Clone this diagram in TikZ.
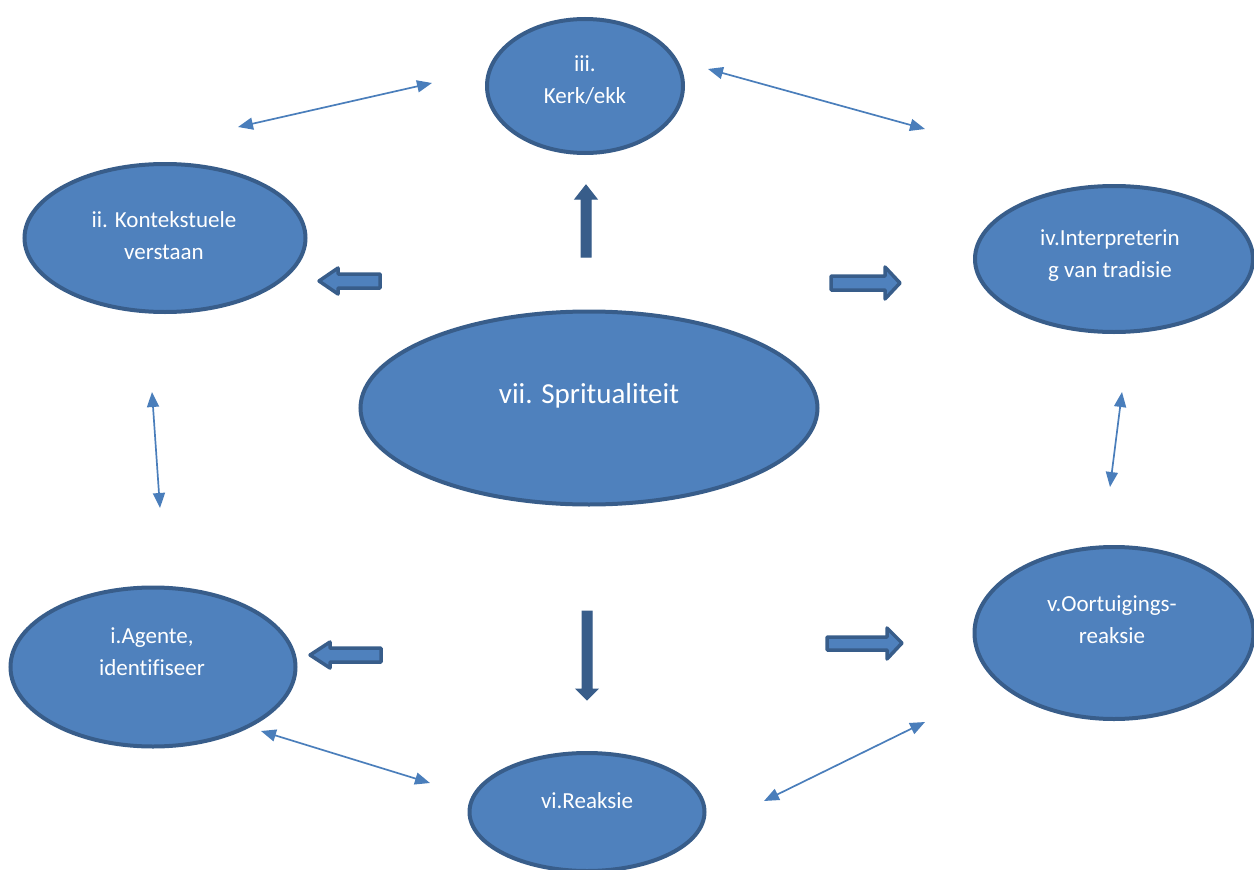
\documentclass[tikz,border=0pt]{standalone}
\usepackage{fontspec}
\setmainfont{Carlito}[Ligatures=NoCommon]
\usetikzlibrary{shapes.geometric,arrows.meta}
\definecolor{fillblue}{HTML}{4F81BD}
\definecolor{edgeblue}{HTML}{385D8A}
\definecolor{lineblue}{HTML}{4A7EBB}
\tikzset{
  oval/.style={ellipse, fill=fillblue, draw=edgeblue, line width=4pt, inner sep=0pt},
  lbl/.style={text=white, align=center, font=\fontsize{23}{32}\selectfont, inner sep=0pt},
  biglbl/.style={text=white, align=center, font=\fontsize{29}{34}\selectfont, inner sep=0pt},
  thin/.style={lineblue, line width=1.7pt, {Triangle[length=15pt,width=12pt]}-{Triangle[length=15pt,width=12pt]}},
  blockarrow/.style={fill=fillblue, draw=edgeblue, line width=3.5pt, line join=round},
  solidarrow/.style={fill=edgeblue, draw=edgeblue, line width=1pt, line join=miter},
}
\begin{document}
\begin{tikzpicture}[x=1pt,y=-1pt]
\useasboundingbox (0,0) rectangle (1254,870);

% ellipses
\node[oval, minimum width=196pt, minimum height=134pt] (kerk) at (585,86) {};
\node[oval, minimum width=281pt, minimum height=148pt] (kont) at (165,238) {};
\node[oval, minimum width=278pt, minimum height=146pt] (interp) at (1114,259) {};
\node[oval, minimum width=457pt, minimum height=193pt] (spirit) at (589,408) {};
\node[oval, minimum width=285pt, minimum height=159pt] (agent) at (153,667) {};
\node[oval, minimum width=279pt, minimum height=172pt] (oort) at (1114,633) {};
\node[oval, minimum width=235pt, minimum height=118pt] (reak) at (587,812) {};

% labels
\node[lbl] (kerkt) at (585,80) {iii.\\Kerk/ekk};
\node[lbl] (kontt) at (164,236) {ii. Kontekstuele\\verstaan};
\node[lbl] (interpt) at (1110,256) {iv.Interpreterin\\g van tradisie};
\node[biglbl] (spiritt) at (589,396) {vii. Spritualiteit};
\node[lbl] (agentt) at (152,652) {i.Agente,\\identifiseer};
\node[lbl] (oortt) at (1112,620) {v.Oortuigings-\\reaksie};
\node[lbl] (reakt) at (587,801) {vi.Reaksie};

% thin double arrows
\coordinate (a1) at (238,127); \coordinate (b1) at (432,83);
\coordinate (a2) at (708,69);  \coordinate (b2) at (925,129);
\coordinate (a3) at (152,392); \coordinate (b3) at (160,508);
\coordinate (a4) at (1122,392); \coordinate (b4) at (1110,487);
\coordinate (a5) at (261,731); \coordinate (b5) at (430,783);
\coordinate (a6) at (764,801); \coordinate (b6) at (925,722);
\draw[thin] (a1) -- (b1);
\draw[thin] (a2) -- (b2);
\draw[thin] (a3) -- (b3);
\draw[thin] (a4) -- (b4);
\draw[thin] (a5) -- (b5);
\draw[thin] (a6) -- (b6);

% block arrows
% left to ii
\draw[blockarrow] (380,274) -- (338,274) -- (338,268) -- (319,281) -- (338,294) -- (338,288) -- (380,288) -- cycle;
% right to iv
\draw[blockarrow] (831,276) -- (885,276) -- (885,267) -- (900,283) -- (885,299) -- (885,290) -- (831,290) -- cycle;
% left to i
\draw[blockarrow] (381,648) -- (330,648) -- (330,642) -- (310,655) -- (330,668) -- (330,662) -- (381,662) -- cycle;
% right to v
\draw[blockarrow] (827,637) -- (887,637) -- (887,628) -- (902,643) -- (887,659) -- (887,650) -- (827,650) -- cycle;
% up to iii
\draw[solidarrow] (581,257) -- (581,199) -- (575,199) -- (586,185) -- (597,199) -- (591,199) -- (591,257) -- cycle;
% down to vi
\draw[solidarrow] (582,611) -- (582,689) -- (576,689) -- (587,700) -- (598,689) -- (592,689) -- (592,611) -- cycle;
\end{tikzpicture}
\end{document}
